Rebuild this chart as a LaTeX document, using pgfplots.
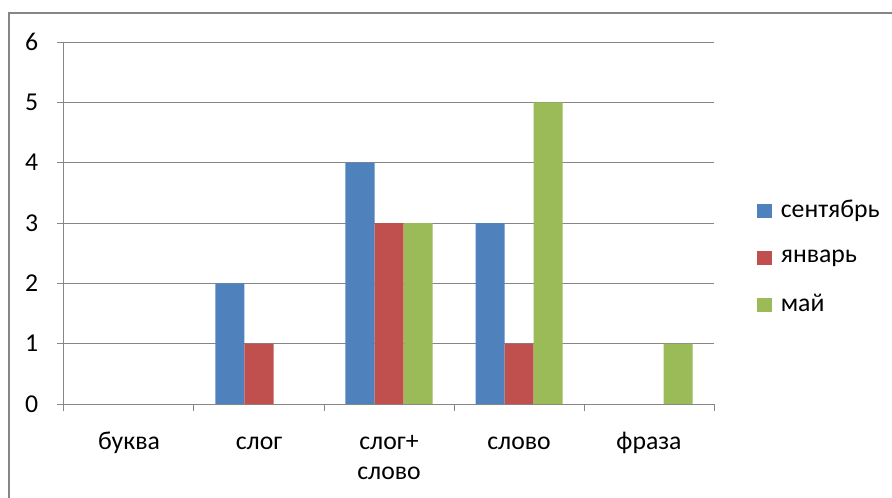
\documentclass[border=0pt]{standalone}
\usepackage{fontspec}
\setmainfont{Carlito}
\usepackage{pgfplots}
\pgfplotsset{compat=1.18}
\definecolor{sep}{RGB}{79,129,189}
\definecolor{jan}{RGB}{192,80,77}
\definecolor{may}{RGB}{155,187,89}
\definecolor{axg}{RGB}{134,134,134}
\newcommand{\cf}{\fontsize{19.3}{22.5}\selectfont}
\begin{document}
\cf
\begin{tikzpicture}[x=0.75pt,y=-0.75pt]
\useasboundingbox (0,0) rectangle (892,497);
\draw[axg, line width=0.9pt] (9,510) -- (9,13) -- (900,13);
\begin{axis}[
  at={(48pt,-303pt)}, anchor=south west,
  scale only axis, width=487.5pt, height=271.5pt,
  xmin=0, xmax=5, ymin=0, ymax=6,
  ybar=0pt, bar width=21.75pt,
  axis x line*=bottom, axis y line*=left,
  axis line style={axg, line width=0.75pt},
  every tick/.style={axg, line width=0.75pt},
  tick align=outside,
  major tick length=5.25pt,
  xtick={0,1,2,3,4,5},
  x tick label as interval,
  xticklabels={\strut буква,\strut слог,{\strut слог+\\слово},\strut слово,\strut фраза},
  ytick={0,1,2,3,4,5,6},
  ymajorgrids, grid style={axg, line width=0.75pt},
  /pgf/number format/assume math mode=true,
  yticklabel style={font=\cf, inner sep=0pt, xshift=-14pt},
  xticklabel style={font=\cf, align=center, anchor=north, inner sep=0pt, yshift=-12.7pt},
  legend style={draw=none, fill=none, at={(1.066,0.404)}, anchor=west,
    font=\cf, row sep=17.2pt, inner sep=0pt,
    /tikz/every odd column/.append style={column sep=4.5pt}},
  legend cell align=left,
  legend image code/.code={\fill[#1] (0pt,-5.25pt) rectangle (11.25pt,5.25pt);},
]
\addplot[fill=sep, draw=none] coordinates {(1.5,2) (2.5,4) (3.5,3)};
\addplot[fill=jan, draw=none] coordinates {(1.5,1) (2.5,3) (3.5,1)};
\addplot[fill=may, draw=none] coordinates {(2.5,3) (3.5,5) (4.5,1)};
\legend{сентябрь,январь,май}
\end{axis}
\end{tikzpicture}
\end{document}
